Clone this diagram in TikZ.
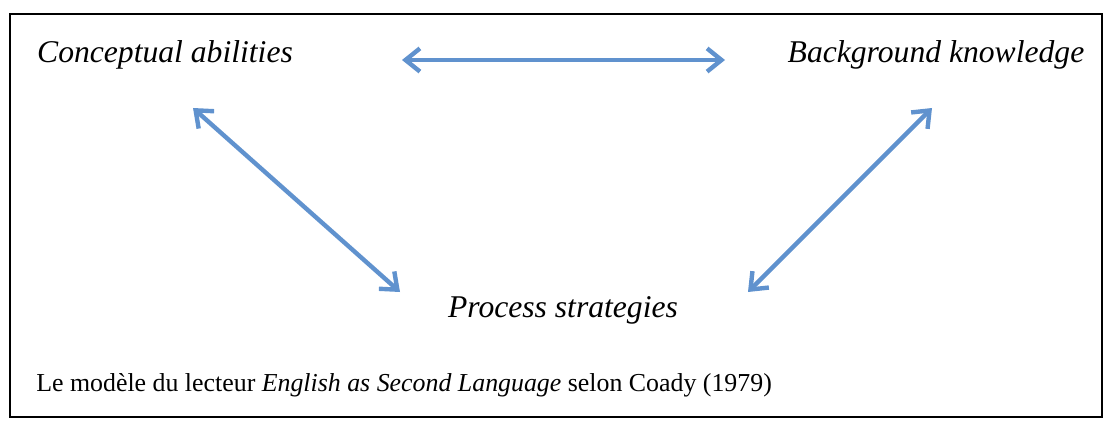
\documentclass[tikz,border=0pt]{standalone}
\usepackage{fontspec}
\setmainfont{Liberation Serif}
\usetikzlibrary{arrows.meta}
\definecolor{arrowblue}{RGB}{96,146,206}
\begin{document}
\begin{tikzpicture}[x=0.25mm,y=-0.25mm,
  term/.style={inner sep=0pt,font=\fontsize{22.5}{27}\selectfont\itshape},
  link/.style={arrowblue,line width=1.1mm,{Straight Barb[length=3.6mm,width=5.8mm]}-{Straight Barb[length=3.6mm,width=5.8mm]}}]

\useasboundingbox (0,0) rectangle (1110,428);
\draw [line width=0.5mm] (10,14) rectangle (1102,417);

% the three terms
\node[term] (ca) at (165,55) {Conceptual abilities};
\node[term] (bk) at (936,55) {Background knowledge};
\node[term] (ps) at (563,310) {Process strategies};

\draw [link] ([shift={(237,5)}]ca.center) -- ([shift={(-211,5)}]bk.center);
\draw [link] ([shift={(28,53)}]ca.center) -- ([shift={(-163,-18)}]ps.center);
\draw [link] ([shift={(-4,53)}]bk.center) -- ([shift={(185,-18)}]ps.center);

\node[inner sep=0pt,anchor=west,font=\fontsize{18.4}{22}\selectfont] (cap) at (36,385)
  {Le modèle du lecteur \textit{English as Second Language} selon Coady (1979)};

\end{tikzpicture}
\end{document}
